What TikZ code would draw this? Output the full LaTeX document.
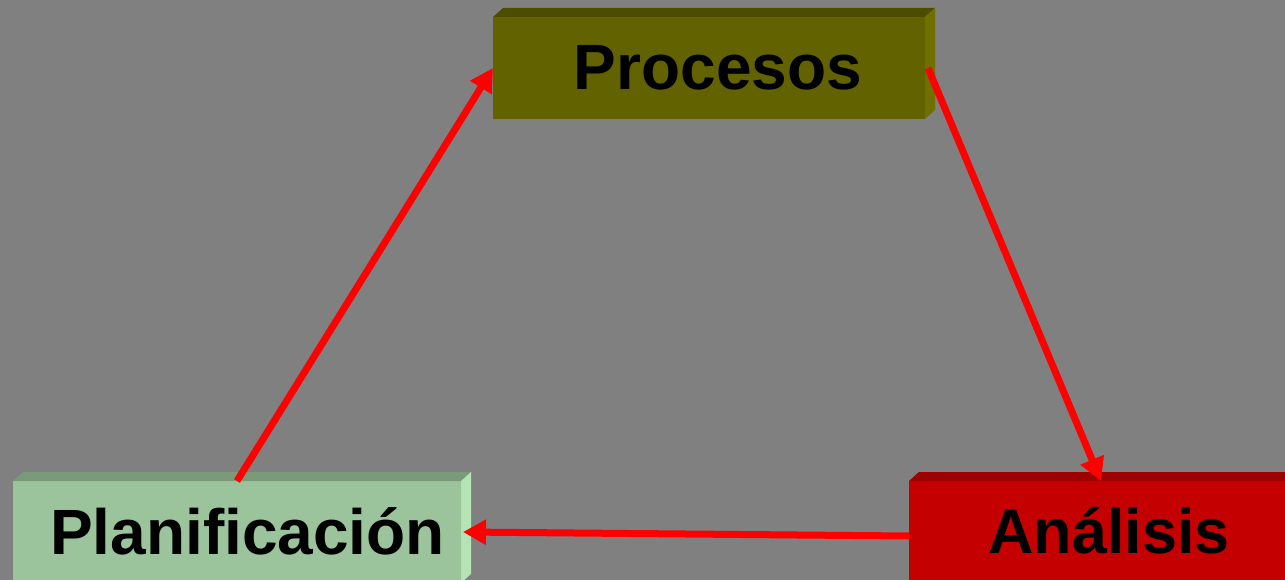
\documentclass[tikz,border=0pt]{standalone}
\usepackage{fontspec}
\setmainfont{Liberation Sans}
\usetikzlibrary{arrows.meta}

\definecolor{bg}{RGB}{128,128,128}
\definecolor{olivefront}{RGB}{98,98,0}
\definecolor{olivetop}{RGB}{77,77,0}
\definecolor{oliveside}{RGB}{112,112,0}
\definecolor{greenfront}{RGB}{156,196,156}
\definecolor{greentop}{RGB}{122,154,122}
\definecolor{greenside}{RGB}{180,228,180}
\definecolor{redfront}{RGB}{196,0,0}
\definecolor{redtop}{RGB}{156,0,0}
\definecolor{redside}{RGB}{220,0,0}
\definecolor{flow}{RGB}{255,0,0}

\tikzset{
  slab/.style={rectangle, inner sep=0pt, outer sep=0pt, draw=none},
  slabtext/.style={anchor=base, inner sep=0pt, font=\bfseries\fontsize{64}{70}\selectfont, text=black},
  flowline/.style={draw=flow, line width=7pt, -{Triangle[length=23pt,width=24pt]}},
}

% top and right bevel faces of a slab node: #1 node, #2 top colour, #3 side colour
\newcommand\slabfaces[3]{%
  \fill[#2] (#1.north west) -- ++(10,-9) -- ([shift={(10,-9)}]#1.north east) -- (#1.north east) -- cycle;
  \fill[#3] (#1.north east) -- ++(10,-9) -- ([shift={(10,-9)}]#1.south east) -- (#1.south east) -- cycle;
}

\begin{document}
\begin{tikzpicture}[x=1pt,y=-1pt]
  \useasboundingbox (0,0) rectangle (1285,580);
  \clip (0,0) rectangle (1285,580);
  \fill[bg] (0,0) rectangle (1285,580);

  % the three slabs
  \node[slab, fill=olivefront, minimum width=432pt, minimum height=102pt] (pro) at (709,68) {};
  \slabfaces{pro}{olivetop}{oliveside}
  \node[slab, fill=greenfront, minimum width=448pt, minimum height=102pt] (pla) at (237,532) {};
  \slabfaces{pla}{greentop}{greenside}
  \node[slab, fill=redfront, minimum width=384pt, minimum height=110pt] (ana) at (1101,536) {};
  \slabfaces{ana}{redtop}{redside}

  % labels
  \node[slabtext] (tpro) at ([xshift=9pt,yshift=-22pt]pro.center) {Procesos};
  \node[slabtext] (tpla) at ([xshift=10.5pt,yshift=-22pt]pla.center) {Planificación};
  \node[slabtext, font=\bfseries\fontsize{63}{70}\selectfont] (tana) at ([xshift=8pt,yshift=-17pt]ana.center) {Análisis};

  % cycle arrows
  \draw[flowline] (pla.north) -- (pro.west);
  \draw[flowline] ([xshift=3pt]pro.east) -- (ana.north);
  \draw[flowline] (ana.west) -- ([xshift=2pt]pla.east);
\end{tikzpicture}
\end{document}
